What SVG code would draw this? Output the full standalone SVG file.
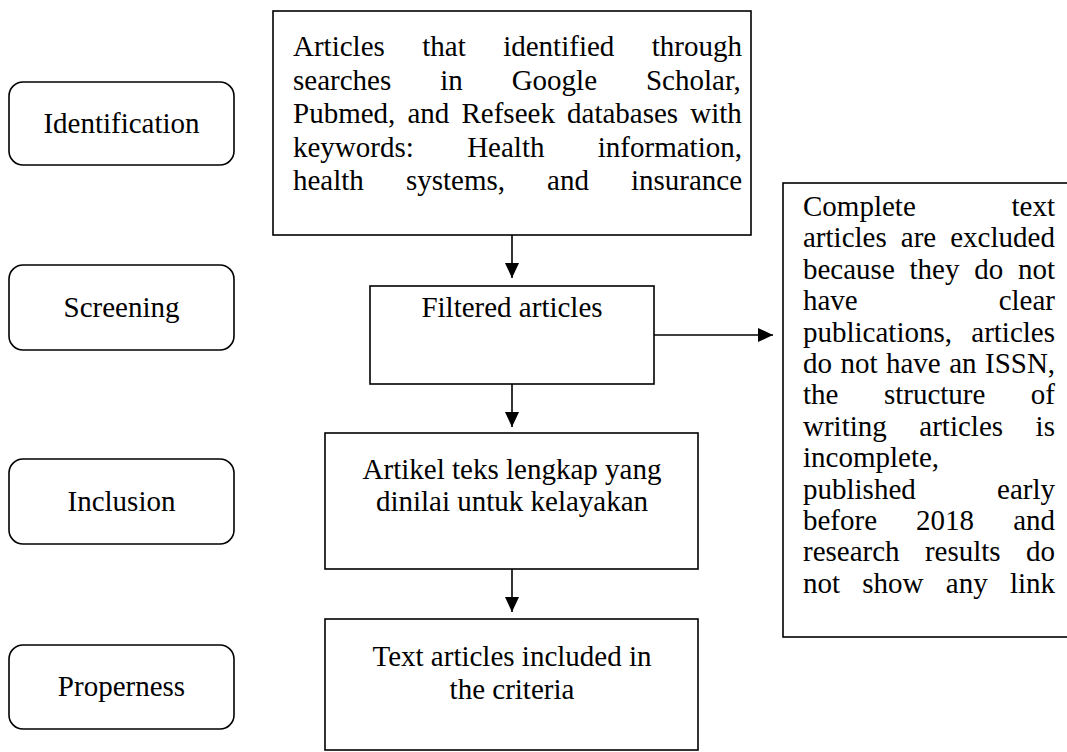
<svg xmlns="http://www.w3.org/2000/svg" width="1067" height="752" viewBox="0 0 1067 752">
  <style>
    .t { font-family: "Liberation Serif", "Times New Roman", serif; font-size: 29px; fill: #000; }
    .c { text-anchor: middle; }
    .box { fill: #fff; stroke: #000; stroke-width: 1.6; }
    .stage { fill: #fff; stroke: #000; stroke-width: 1.6; }
    .conn { stroke: #000; stroke-width: 1.6; fill: none; }
  </style>
  <defs>
    <marker id="arrow" markerUnits="userSpaceOnUse" markerWidth="16" markerHeight="14" refX="15" refY="7" orient="auto">
      <path d="M0,0 L15,7 L0,14 Z" fill="#000"/>
    </marker>
  </defs>
  <rect width="1067" height="752" fill="#fff"/>

  <g id="stage-identification">
    <rect class="stage" x="9" y="82" width="225" height="83" rx="14"/>
    <text class="t c" x="121.5" y="133">Identification</text>
  </g>
  <g id="stage-screening">
    <rect class="stage" x="9" y="265" width="225" height="85" rx="14"/>
    <text class="t c" x="121.5" y="317">Screening</text>
  </g>
  <g id="stage-inclusion">
    <rect class="stage" x="9" y="459" width="225" height="85" rx="14"/>
    <text class="t c" x="121.5" y="511">Inclusion</text>
  </g>
  <g id="stage-properness">
    <rect class="stage" x="9" y="645" width="225" height="84" rx="14"/>
    <text class="t c" x="121.5" y="696">Properness</text>
  </g>

  <g id="box-identified">
    <rect class="box" x="273" y="11" width="478" height="224"/>
    <text class="t" x="293" y="56" word-spacing="30.2">Articles that identified through</text>
    <text class="t" x="293" y="90" word-spacing="41.7">searches in Google Scholar,</text>
    <text class="t" x="293" y="123" word-spacing="4.9">Pubmed, and Refseek databases with</text>
    <text class="t" x="293" y="157" word-spacing="46.1">keywords: Health information,</text>
    <text class="t" x="293" y="190" word-spacing="34.8">health systems, and insurance</text>
  </g>

  <g id="box-filtered">
    <rect class="box" x="370" y="286" width="284" height="98"/>
    <text class="t c" x="512" y="317">Filtered articles</text>
  </g>

  <g id="box-eligibility">
    <rect class="box" x="325" y="433" width="373" height="136"/>
    <text class="t c" x="512" y="479">Artikel teks lengkap yang</text>
    <text class="t c" x="512" y="511">dinilai untuk kelayakan</text>
  </g>

  <g id="box-included">
    <rect class="box" x="325" y="619" width="373" height="131"/>
    <text class="t c" x="512" y="666">Text articles included in</text>
    <text class="t c" x="512" y="699">the criteria</text>
  </g>

  <g id="box-excluded">
    <rect class="box" x="783" y="183" width="300" height="454"/>
    <text class="t" x="803" y="216" word-spacing="88.5">Complete text</text>
    <text class="t" x="803" y="247.4" word-spacing="6.8">articles are excluded</text>
    <text class="t" x="803" y="278.8" word-spacing="7.5">because they do not</text>
    <text class="t" x="803" y="310.2" word-spacing="133.7">have clear</text>
    <text class="t" x="803" y="341.6" word-spacing="12">publications, articles</text>
    <text class="t" x="803" y="373" word-spacing="1.2">do not have an ISSN,</text>
    <text class="t" x="803" y="404.4" word-spacing="38.2">the structure of</text>
    <text class="t" x="803" y="435.8" word-spacing="25.3">writing articles is</text>
    <text class="t" x="803" y="467.2">incomplete,</text>
    <text class="t" x="803" y="498.6" word-spacing="74">published early</text>
    <text class="t" x="803" y="530" word-spacing="31.8">before 2018 and</text>
    <text class="t" x="803" y="561.4" word-spacing="18.1">research results do</text>
    <text class="t" x="803" y="592.8" word-spacing="15">not show any link</text>
  </g>

  <g id="connectors">
    <line class="conn" x1="512" y1="235" x2="512" y2="278" marker-end="url(#arrow)"/>
    <line class="conn" x1="512" y1="384" x2="512" y2="427" marker-end="url(#arrow)"/>
    <line class="conn" x1="512" y1="569" x2="512" y2="612" marker-end="url(#arrow)"/>
    <line class="conn" x1="654" y1="335" x2="773" y2="335" marker-end="url(#arrow)"/>
  </g>
</svg>
